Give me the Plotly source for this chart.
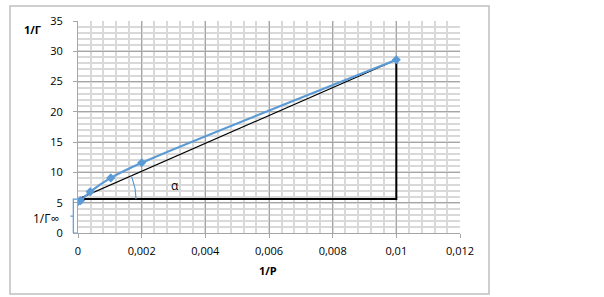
import numpy as np
import plotly.graph_objects as go

# ---- data ----
inv_p = [0.0, 0.00008, 0.00038, 0.00103, 0.002, 0.01]
inv_gamma = [5.15, 5.35, 6.8, 9.1, 11.6, 28.6]
fit_x = [0.0, 0.01]
fit_y = [5.6, 28.6]
x_tickvals = [0, 0.002, 0.004, 0.006, 0.008, 0.01, 0.012]
x_ticktext = ["0", "0,002", "0,004", "0,006", "0,008", "0,01", "0,012"]
y_tickvals = [0, 5, 10, 15, 20, 25, 30, 35]

BLUE = "#5B9BD5"
FONT = "Open Sans"

# plot geometry (pixels)
L, R, T, B = 78, 144, 21, 64
W, H = 604, 297
pw, ph = W - L - R, H - T - B
xr, yr = (0, 0.012), (0, 35)
sx = pw / (xr[1] - xr[0])
sy = ph / (yr[1] - yr[0])

fig = go.Figure()

# triangle: horizontal + vertical legs
fig.add_trace(go.Scatter(x=[fit_x[0], fit_x[1], fit_x[1]], y=[fit_y[0], fit_y[0], fit_y[1]],
                         mode="lines", line=dict(color="black", width=2),
                         showlegend=False, hoverinfo="skip"))
# fitted line
fig.add_trace(go.Scatter(x=fit_x, y=fit_y, mode="lines",
                         line=dict(color="black", width=1.2),
                         showlegend=False, hoverinfo="skip"))
# measured series
fig.add_trace(go.Scatter(x=inv_p, y=inv_gamma, mode="lines+markers",
                         line=dict(color=BLUE, width=2.2, shape="spline", smoothing=0.8),
                         marker=dict(symbol="diamond", size=7, color=BLUE),
                         showlegend=False))

# angle arc (pixel radius around the intercept)
ang = np.arctan(((fit_y[1] - fit_y[0]) * sy) / ((fit_x[1] - fit_x[0]) * sx))
rad = 58
t = np.linspace(0, ang, 30)
arc_x = fit_x[0] + rad * np.cos(t) / sx
arc_y = fit_y[0] + rad * np.sin(t) / sy
fig.add_trace(go.Scatter(x=arc_x, y=arc_y, mode="lines",
                         line=dict(color=BLUE, width=1.2),
                         showlegend=False, hoverinfo="skip"))

# brace for 1/Γ∞ (x in paper coordinates, y in data)
bx = -4.7 / pw
bh = -0.7 / pw
btip = -7.5 / pw
ymid = fit_y[0] / 2
brace = (f"M {bh},{fit_y[0]} L {bx},{fit_y[0]} L {bx},{ymid} L {btip},{ymid} "
         f"M {bx},{ymid} L {bx},0 L {bh},0")
fig.add_shape(type="path", path=brace, xref="paper", yref="y",
              line=dict(color=BLUE, width=1.2))

# outer frame
fig.add_shape(type="rect", xref="paper", yref="paper",
              x0=(10 - L) / pw, x1=(489 - L) / pw,
              y0=(T + ph - 294) / ph, y1=(T + ph - 6) / ph,
              line=dict(color="#BFBFBF", width=1.5), layer="below")

fig.add_annotation(x=0.00305, y=7.9, text="α", showarrow=False,
                   font=dict(family=FONT, size=12, color="black"))
fig.add_annotation(xref="paper", yref="y", x=(61 - L) / pw, y=2.4, text="1/Γ∞",
                   showarrow=False, xanchor="right", yanchor="middle",
                   font=dict(family=FONT, size=12, color="black"))
fig.add_annotation(xref="paper", yref="paper", x=(32 - L) / pw, y=(T + ph - 29) / ph,
                   text="<b>1/Γ</b>", showarrow=False, xanchor="center", yanchor="middle",
                   font=dict(family=FONT, size=11, color="black"))
fig.add_annotation(xref="paper", yref="paper", x=(268 - L) / pw, y=(T + ph - 270) / ph,
                   text="<b>1/P</b>", showarrow=False, xanchor="center", yanchor="middle",
                   font=dict(family=FONT, size=11, color="black"))

axis_common = dict(showline=True, linecolor="#A6A6A6", linewidth=1,
                   gridcolor="#A6A6A6", gridwidth=1,
                   ticks="outside", ticklen=4, tickcolor="#A6A6A6",
                   tickfont=dict(family=FONT, size=11, color="black"),
                   zeroline=False, mirror=False)

fig.update_xaxes(range=list(xr), tickvals=x_tickvals, ticktext=x_ticktext,
                 minor=dict(dtick=0.0004, showgrid=True, gridcolor="#D9D9D9", gridwidth=1.5),
                 ticklabelstandoff=4, **axis_common)
fig.update_yaxes(range=list(yr), tickvals=y_tickvals,
                 minor=dict(dtick=1, showgrid=True, gridcolor="#D9D9D9", gridwidth=1.5),
                 ticklabelstandoff=8, **axis_common)

fig.update_layout(width=W, height=H, margin=dict(l=L, r=R, t=T, b=B),
                  paper_bgcolor="white", plot_bgcolor="white",
                  font=dict(family=FONT))

fig.write_html("out.html")
